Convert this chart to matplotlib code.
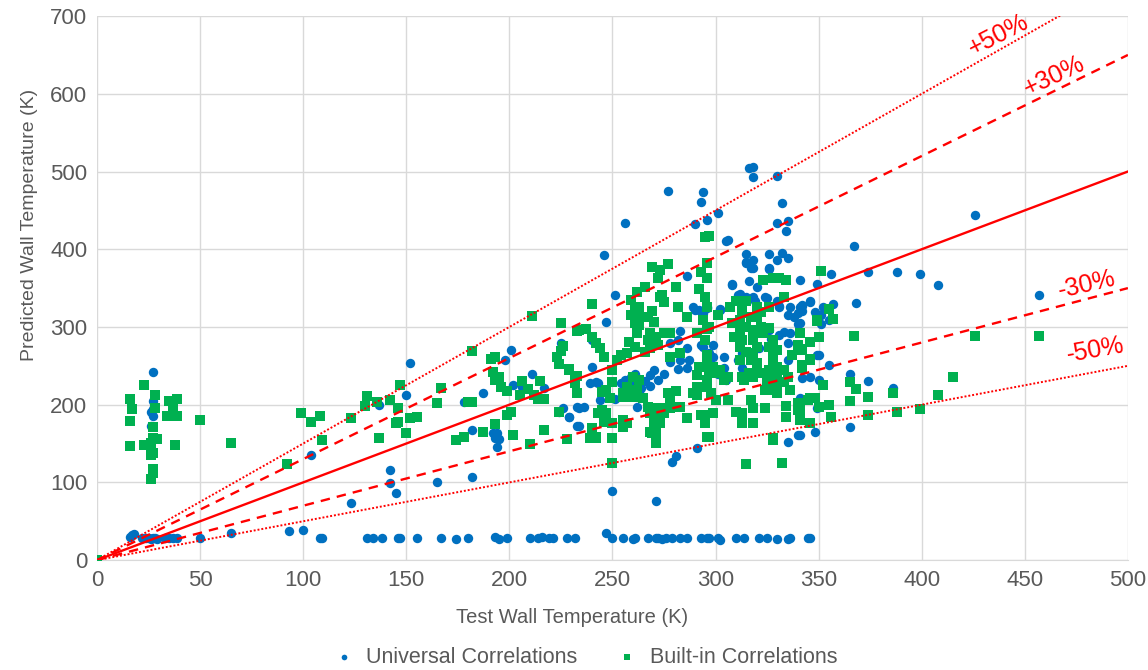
import matplotlib
matplotlib.use("Agg")
import matplotlib.pyplot as plt
import numpy as np

plt.rcParams['font.family'] = ['Liberation Sans', 'DejaVu Sans']

# Universal correlations: (test, predicted) wall temperatures in K
universal = [
    # near-constant low predictions
    (16, 30), (17, 32), (18, 33), (22, 28), (24, 28), (25, 29), (26, 27), (27, 28), (28, 28), (29, 27),
    (33, 28), (35, 28), (37, 28), (39, 28), (50, 28), (65, 35), (93, 38), (100, 39), (108, 28), (109, 28),
    (131, 29), (134, 29), (138, 29), (146, 28), (147, 28), (155, 28), (167, 28), (174, 27), (180, 28),
    (193, 30), (195, 27), (199, 28), (210, 28), (214, 29), (216, 30), (219, 28), (221, 28), (228, 28),
    (232, 29), (247, 35), (250, 28), (255, 29), (260, 27), (261, 28), (267, 28), (271, 29), (272, 28),
    (274, 27), (276, 28), (279, 29), (283, 28), (286, 28), (293, 28), (296, 29), (297, 28), (301, 28),
    (302, 26), (310, 29), (314, 29), (321, 29), (325, 28), (330, 27), (335, 27), (336, 28), (345, 28),
    (346, 28),
    # low test temperatures
    (27, 242), (27, 205), (27, 194), (26, 190), (27, 186), (26, 172),
    (104, 135), (123, 73), (142, 116), (142, 99), (145, 86), (165, 100), (182, 107), (152, 253),
    (150, 212), (137, 199), (178, 203), (182, 168), (187, 215), (192, 164), (194, 164), (193, 157),
    (195, 156), (194, 145), (198, 257), (201, 270), (202, 225), (206, 223), (211, 239), (217, 221),
    (225, 279), (224, 190), (226, 196), (229, 184), (233, 172), (233, 197),
    (250, 89), (271, 76), (279, 126), (281, 134), (291, 144), (335, 152), (340, 161), (348, 165),
    # main cloud
    (316, 504), (318, 506), (318, 493), (330, 494), (277, 475), (294, 474), (293, 461), (332, 459),
    (256, 434), (290, 432), (296, 438), (301, 446), (330, 434), (335, 436), (334, 423), (306, 412),
    (246, 392), (315, 394), (318, 386), (315, 382), (318, 376), (326, 394), (332, 395), (330, 386),
    (335, 389), (326, 376), (286, 365), (308, 354), (251, 341), (341, 360), (349, 355), (247, 306),
    (311, 341), (313, 338), (318, 338), (319, 334), (325, 337), (331, 326), (341, 326), (346, 332),
    (289, 326), (292, 322), (294, 318), (296, 326), (302, 322), (335, 315), (338, 313), (340, 304),
    (351, 304), (240, 283), (283, 295), (282, 283), (286, 273), (278, 279), (278, 255), (283, 257),
    (287, 257), (282, 246), (286, 247), (294, 274), (297, 266), (299, 261), (304, 261), (304, 247),
    (301, 240), (305, 232), (321, 273), (318, 268), (333, 293), (335, 280), (335, 257), (342, 234),
    (349, 264), (350, 232), (240, 248), (242, 229), (243, 228), (239, 228), (244, 206), (251, 207),
    (262, 197), (234, 196), (236, 197), (229, 184), (234, 172),
    (256, 232), (258, 226), (260, 220), (262, 228), (264, 222), (259, 236), (263, 216), (257, 214),
    (261, 240), (266, 230), (268, 224), (254, 228), (268, 238), (270, 244), (272, 232), (275, 240),
    (313, 266), (311, 257), (313, 247), (341, 208), (349, 196),
    (305, 410), (315, 383), (317, 376), (326, 374), (308, 355), (316, 359), (320, 351), (312, 343),
    (315, 338), (324, 338), (330, 334), (290, 322), (302, 323), (296, 324), (336, 326), (331, 327),
    (340, 318), (342, 320), (342, 327), (348, 319), (326, 296), (331, 290), (336, 292), (327, 284),
    (299, 277), (293, 277),
    # high test temperatures
    (356, 368), (367, 404), (374, 371), (388, 371), (399, 368), (408, 354), (426, 444), (457, 341),
    (342, 328), (346, 333), (352, 326), (351, 316), (355, 309), (357, 329), (368, 331), (341, 305),
    (350, 264), (355, 251), (346, 235), (365, 240), (374, 231), (386, 222), (365, 171), (341, 161),
]

# Built-in correlations: (test, predicted) wall temperatures in K
builtin = [
    (0, 0),
    (23, 225), (16, 207), (17, 194), (16, 179), (16, 147), (28, 212), (28, 196), (27, 171), (27, 157),
    (29, 156), (23, 148), (26, 151), (27, 138), (26, 135), (27, 117), (27, 112), (26, 104), (35, 205),
    (39, 207), (37, 196), (34, 186), (39, 186), (38, 148), (50, 180), (65, 151), (92, 124),
    (99, 189), (104, 178), (108, 185), (109, 155), (123, 183), (131, 211), (130, 198), (136, 203),
    (142, 206), (137, 157), (146, 196), (145, 176), (146, 178), (147, 225), (150, 163), (152, 183),
    (155, 184), (167, 222), (165, 202), (174, 155), (178, 159), (182, 269), (180, 203), (182, 203),
    (187, 165), (191, 259), (193, 261), (192, 242), (193, 232), (195, 236), (196, 223), (199, 217),
    (193, 175), (199, 187), (201, 190), (202, 161), (206, 230), (205, 212), (209, 220), (211, 314),
    (215, 230), (212, 212), (214, 207), (217, 207), (210, 150), (217, 167), (225, 305), (226, 275),
    (225, 269), (223, 261), (224, 252), (229, 246), (233, 295), (233, 237), (232, 228), (224, 190),
    (228, 156),
    (295, 416), (297, 417), (269, 377), (273, 373), (272, 363), (277, 381), (293, 371), (296, 382),
    (296, 363), (266, 351), (262, 345), (259, 335), (261, 326), (263, 326), (281, 351), (292, 349),
    (295, 338), (296, 326), (273, 338), (275, 332), (274, 341), (240, 329), (282, 326), (269, 320),
    (267, 313), (270, 306), (259, 315), (263, 313), (286, 313), (301, 315), (234, 296), (237, 298),
    (240, 287), (242, 279), (244, 273), (246, 261), (261, 305), (263, 302), (262, 292), (258, 281),
    (261, 274), (257, 266), (268, 292), (271, 287), (267, 283), (272, 277), (268, 273), (266, 268),
    (275, 292), (278, 292), (291, 292), (296, 298), (294, 309), (297, 300), (295, 283), (307, 326),
    (310, 334), (313, 326), (315, 334), (320, 326), (313, 318), (312, 309), (317, 313), (320, 313),
    (322, 319), (326, 326), (308, 305), (312, 296), (315, 300), (318, 296), (322, 300), (323, 292),
    (309, 287), (313, 283), (318, 283), (320, 274), (312, 274), (315, 268), (318, 266), (312, 257),
    (317, 257), (320, 253), (323, 360), (328, 363), (331, 363), (334, 360), (333, 338), (326, 299),
    (328, 283), (328, 266), (326, 274), (330, 270), (328, 253), (330, 248), (333, 244), (335, 235),
    (333, 229), (330, 222), (336, 219), (341, 292), (340, 277), (346, 281), (341, 270), (350, 287),
    (349, 309), (337, 264), (346, 257), (342, 247), (346, 208), (348, 208), (340, 202), (340, 193),
    (341, 180), (346, 176), (334, 198), (334, 184), (328, 157), (317, 206), (318, 196), (310, 190),
    (313, 189), (313, 176), (318, 176), (324, 196), (306, 206), (299, 189), (295, 176), (295, 187),
    (293, 187), (296, 158), (286, 183), (278, 206), (278, 196), (275, 189), (273, 176), (270, 176),
    (268, 165), (271, 184), (283, 197), (281, 217), (277, 215), (289, 215), (291, 212), (291, 223),
    (296, 223), (298, 215), (300, 206), (297, 241), (301, 241), (302, 245), (299, 248), (296, 251),
    (296, 232), (304, 232), (306, 236), (291, 238), (292, 248), (296, 264), (283, 266), (278, 261),
    (313, 236), (316, 241), (314, 232), (318, 236), (320, 245), (323, 241), (326, 245), (330, 241),
    (324, 219), (327, 219), (330, 215), (325, 232), (329, 232), (263, 232), (260, 236), (262, 219),
    (257, 223), (255, 215), (260, 210), (255, 210), (250, 245), (252, 257), (254, 264), (250, 229),
    (247, 219), (245, 216), (249, 208), (245, 193), (247, 189), (246, 178), (250, 176), (243, 189),
    (240, 170), (242, 158), (239, 157), (255, 180), (257, 176), (255, 171), (267, 197), (270, 196),
    (268, 189), (273, 196), (265, 208), (269, 163), (271, 163), (233, 215), (229, 245), (232, 232),
    (250, 125), (271, 151), (297, 158), (315, 124), (332, 125), (328, 154), (242, 157), (250, 157),
    (351, 372), (355, 323), (357, 310), (349, 308), (367, 288), (426, 288), (457, 288), (341, 292),
    (342, 271), (346, 259), (342, 251), (352, 225), (365, 229), (368, 220), (374, 210), (386, 215),
    (408, 212), (415, 236), (345, 206), (350, 197), (355, 200), (341, 193), (341, 181), (356, 184),
    (365, 205), (374, 187), (388, 190), (399, 195),
]

univ_x, univ_y = np.array(universal).T
bi_x, bi_y = np.array(builtin).T

# error bands around the 1:1 line
band_factors = [1.5, 1.3, 1.0, 0.7, 0.5]
band_styles = [':', '--', '-', '--', ':']
band_labels = ['+50%', '+30%', None, '-30%', '-50%']

text_gray = '#595959'
grid_gray = '#d9d9d9'

fig = plt.figure(figsize=(11.48, 6.70), dpi=100)
ax = fig.add_axes([0.0845, 0.164, 0.898, 0.812])

ax.scatter(univ_x, univ_y, s=46, marker='o', color='#0070C0', linewidths=0,
           label='Universal Correlations', zorder=3)
ax.scatter(bi_x, bi_y, s=44, marker='s', color='#00B050', linewidths=0,
           label='Built-in Correlations', zorder=3)

xs = np.array([0, 500])
for f, ls in zip(band_factors, band_styles):
    if ls == '-':
        ax.plot(xs, f * xs, color='red', linewidth=1.7, zorder=4)
    elif ls == '--':
        ax.plot(xs, f * xs, color='red', linewidth=1.7, dashes=(4, 3), zorder=4)
    else:
        ax.plot(xs, f * xs, color='red', linewidth=1.4, dashes=(1, 1), zorder=4)

label_pos = {'+50%': (437, 675, 27), '+30%': (464, 623, 25),
             '-30%': (480, 354, 13), '-50%': (484, 270, 10)}
for lab in band_labels:
    if lab is None:
        continue
    x, y, rot = label_pos[lab]
    ax.text(x, y, lab, color='red', fontsize=18, rotation=rot,
            ha='center', va='center', rotation_mode='anchor', zorder=5)

ax.set_xlim(0, 500)
ax.set_ylim(0, 700)
ax.set_xticks(np.arange(0, 501, 50))
ax.set_yticks(np.arange(0, 701, 100))
ax.grid(True, color=grid_gray, linewidth=1)
ax.set_axisbelow(True)
for side in ['top', 'right', 'left']:
    ax.spines[side].set_visible(False)
ax.spines['bottom'].set_color(grid_gray)
ax.tick_params(length=0, labelsize=16, labelcolor=text_gray, pad=7)

ax.set_xlabel('Test Wall Temperature (K)', fontsize=14.5, color=text_gray)
ax.xaxis.set_label_coords(0.461, -0.088)
ax.set_ylabel('Predicted Wall Temperature (K)', fontsize=14, color=text_gray)
ax.yaxis.set_label_coords(-0.057, 0.616)

fig.legend(loc='lower center', bbox_to_anchor=(0.505, -0.026), ncol=2, frameon=False,
           fontsize=15.5, markerscale=0.6, handletextpad=0.05, columnspacing=1.3,
           labelcolor=text_gray)

fig.savefig('out.png', dpi=100)
